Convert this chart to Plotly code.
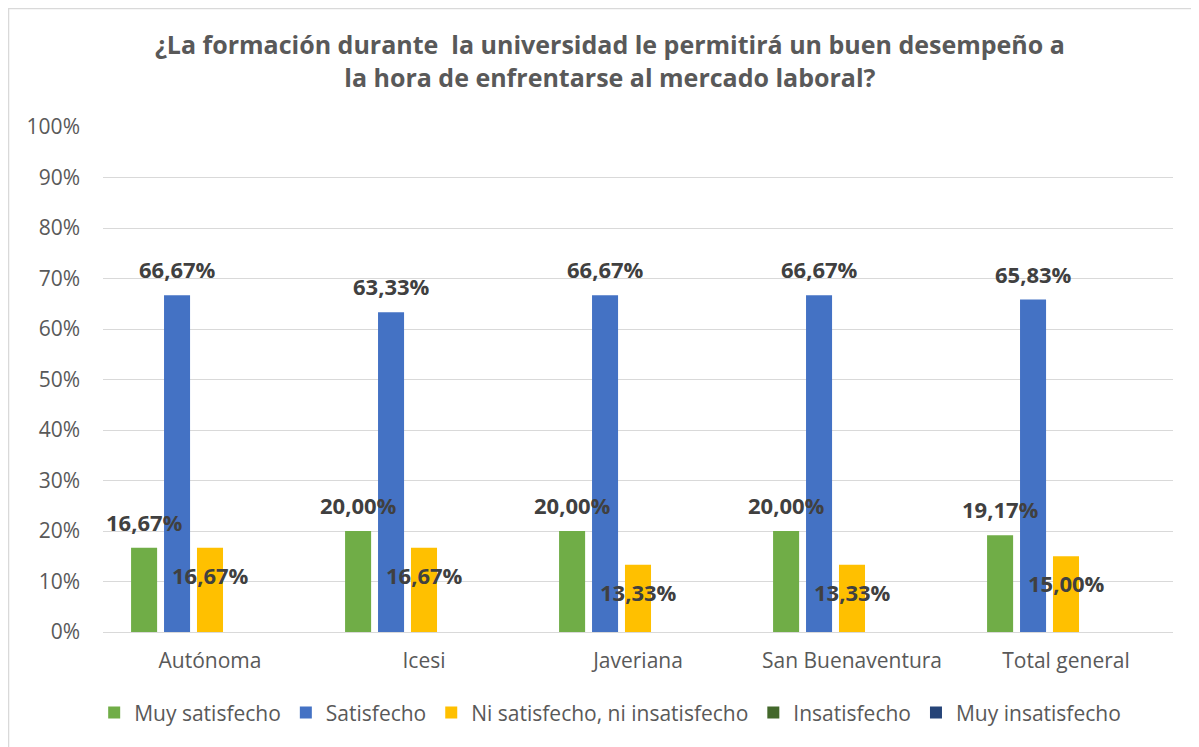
import plotly.graph_objects as go

categories = ["Autónoma", "Icesi", "Javeriana", "San Buenaventura", "Total general"]
series_names = ["Muy satisfecho", "Satisfecho", "Ni satisfecho, ni insatisfecho", "Insatisfecho", "Muy insatisfecho"]
muy_satisfecho = [16.67, 20.00, 20.00, 20.00, 19.17]
satisfecho = [66.67, 63.33, 66.67, 66.67, 65.83]
ni_ni = [16.67, 16.67, 13.33, 13.33, 15.00]
insatisfecho = [0, 0, 0, 0, 0]
muy_insatisfecho = [0, 0, 0, 0, 0]
y_ticks = [0, 10, 20, 30, 40, 50, 60, 70, 80, 90, 100]
y_tick_labels = [f"{v}%" for v in y_ticks]

colors = ["#70AD47", "#4472C4", "#FFC000", "#43682B", "#264478"]
values = [muy_satisfecho, satisfecho, ni_ni, insatisfecho, muy_insatisfecho]

FONT = "Open Sans"
fig = go.Figure()
for name, vals, col in zip(series_names, values, colors):
    fig.add_trace(go.Bar(
        x=categories, y=vals, name=name,
        marker=dict(color=col, line=dict(width=0)),
        hoverinfo="x+y+name",
    ))

def fmt(v):
    return f"{v:.2f}".replace(".", ",") + "%"

# data labels (Excel-style placement)
label_specs = [(muy_satisfecho, -66, 26), (satisfecho, -33, 26), (ni_ni, 0, -27)]
for vals, xs, ys in label_specs:
    for c, v in zip(categories, vals):
        fig.add_annotation(
            x=c, y=v, xref="x", yref="y", text=fmt(v), showarrow=False,
            xshift=xs, yshift=ys,
            font=dict(family=FONT, size=22, color="#404040", weight="bold"),
        )

fig.update_layout(
    width=1199, height=747,
    paper_bgcolor="white", plot_bgcolor="white",
    margin=dict(l=95, r=34, t=119, b=123),
    barmode="group", bargap=0.23, bargroupgap=0.21,
    title=dict(
        text="¿La formación durante  la universidad le permitirá un buen desempeño a<br>la hora de enfrentarse al mercado laboral?",
        x=0.502, xanchor="center", y=0.938, yanchor="middle",
        font=dict(family=FONT, size=25, color="#595959", weight="bold"),
    ),
    font=dict(family=FONT, size=21, color="#595959"),
    legend=dict(
        orientation="h", x=0.474, xanchor="center", y=-0.16, yanchor="middle",
        font=dict(family=FONT, size=21, color="#595959"),
        itemwidth=30, traceorder="normal",
    ),
    xaxis=dict(
        showgrid=False, showline=True, linecolor="#D9D9D9", linewidth=1,
        ticks="", tickfont=dict(family=FONT, size=21, color="#595959"),
        ticklabelstandoff=10,
    ),
    yaxis=dict(
        range=[0, 100], tickvals=y_ticks, ticktext=y_tick_labels,
        showgrid=True, gridcolor="#D9D9D9", gridwidth=1,
        zeroline=False, showline=False, ticks="",
        tickfont=dict(family=FONT, size=21, color="#595959"),
        ticklabelstandoff=22,
    ),
    shapes=[dict(type="rect", xref="paper", yref="paper", x0=-0.0883, x1=1.1, y0=-0.4, y1=1.2347,
                 line=dict(color="#D9D9D9", width=1.5), fillcolor="rgba(0,0,0,0)", layer="below")],
)

fig.write_html("out.html")
